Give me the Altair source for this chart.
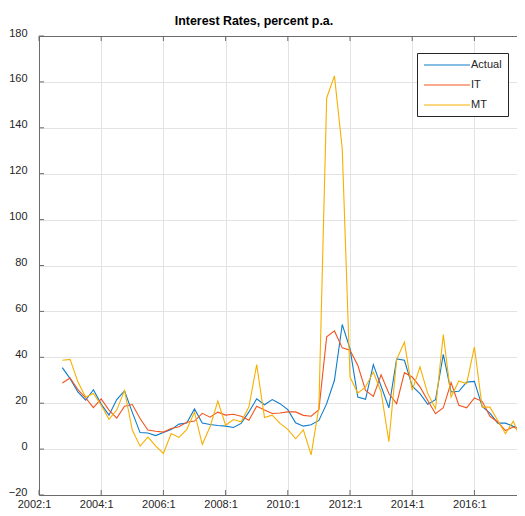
import altair as alt
import pandas as pd

# Quarterly observations, 2002:4 .. 2017:4
start_year, start_quarter = 2002, 4
actual = [35.5, 30.7, 24.9, 21.3, 25.9, 19.6, 14.8, 21.6, 25.4, 16.0,
          7.2, 7.0, 5.9, 7.2, 8.5, 10.9, 11.4, 17.5, 11.4, 10.7,
          10.3, 10.0, 9.4, 11.2, 16.2, 21.9, 19.3, 21.6, 19.8, 17.2,
          11.5, 10.0, 10.6, 12.5, 19.8, 30.0, 54.3, 43.8, 22.7, 21.7,
          36.8, 27.4, 18.0, 39.3, 38.7, 27.4, 24.2, 19.5, 21.5, 41.3,
          24.9, 25.2, 29.2, 29.5, 18.6, 15.7, 11.3, 11.3, 9.9, 8.9, 8.9]
it = [28.8, 31.0, 25.9, 22.3, 18.1, 21.9, 17.0, 13.5, 18.7, 19.4,
      13.3, 8.3, 7.8, 7.4, 9.0, 9.7, 11.7, 12.2, 15.6, 13.9,
      16.1, 14.8, 15.2, 14.3, 12.6, 18.7, 17.0, 15.5, 15.7, 16.2,
      16.2, 14.7, 14.3, 17.2, 48.9, 51.5, 44.1, 43.1, 36.5, 25.6,
      23.0, 32.4, 24.2, 19.8, 33.3, 31.4, 27.1, 21.2, 15.4, 18.0,
      29.0, 19.1, 18.0, 22.3, 20.8, 14.3, 11.8, 8.1, 9.6, 8.1, 8.4]
mt = [38.7, 39.1, 29.3, 22.7, 24.2, 19.1, 13.0, 17.0, 25.6, 8.3,
      1.3, 5.2, 1.4, -1.9, 6.8, 5.1, 8.5, 16.1, 2.0, 9.7,
      20.9, 10.4, 12.9, 11.9, 18.4, 36.8, 13.8, 14.8, 11.2, 8.6,
      4.5, 8.4, -2.5, 18.3, 153.0, 162.6, 131.0, 31.4, 24.4, 27.1,
      33.6, 24.9, 3.2, 39.1, 46.6, 25.6, 35.8, 24.2, 17.6, 49.9,
      22.7, 29.7, 28.5, 44.5, 18.3, 18.3, 12.5, 6.7, 12.2, 3.8, 8.9]

series_names = ["Actual", "IT", "MT"]
series_colors = ["#0f7ccc", "#f2541f", "#f7b000"]
x_tick_years = [2002, 2004, 2006, 2008, 2010, 2012, 2014, 2016]
x_tick_labels = ["2002:1", "2004:1", "2006:1", "2008:1", "2010:1", "2012:1", "2014:1", "2016:1"]
y_ticks = [-20, 0, 20, 40, 60, 80, 100, 120, 140, 160, 180]

rows = []
for name, vals in zip(series_names, [actual, it, mt]):
    for k, v in enumerate(vals):
        t = start_year + (start_quarter - 1) / 4 + k / 4
        rows.append({"t": t, "value": v, "series": name})
df = pd.DataFrame(rows)

W, H = 478, 459
FONT = "Liberation Sans"
AXC = "#6b6b6b"
x_dom = [2002, 2002 + W / 31.1]
y_dom = [-20, 180]

label_expr = " : ".join(
    f"datum.value == {y} ? '{l}'" for y, l in zip(x_tick_years, x_tick_labels)
) + " : ''"

xscale = alt.Scale(domain=x_dom, nice=False, zero=False)
yscale = alt.Scale(domain=y_dom, nice=False, zero=False)

lines = alt.Chart(df).mark_line(strokeWidth=1.1, clip=True).encode(
    x=alt.X("t:Q", scale=xscale, title=None,
            axis=alt.Axis(orient="bottom", values=x_tick_years, labelExpr=label_expr,
                          grid=True, gridColor="#e3e3e3", ticks=False, domain=True,
                          domainColor=AXC, labelFont=FONT, labelFontSize=11,
                          labelColor="#262626", labelPadding=3, labelOffset=-5,
                          labelFlush=False, labelOverlap=False)),
    y=alt.Y("value:Q", scale=yscale, title=None,
            axis=alt.Axis(orient="left", values=y_ticks, grid=True, gridColor="#e3e3e3",
                          ticks=False, domain=True, domainColor=AXC, labelFont=FONT,
                          labelFontSize=11, labelColor="#262626", labelPadding=12,
                          labelOffset=-3, labelFlush=False, labelOverlap=False)),
    color=alt.Color("series:N",
                    scale=alt.Scale(domain=series_names, range=series_colors),
                    legend=alt.Legend(title=None, orient="none", legendX=378, legendY=17,
                                      symbolType="M-1,0H8.2", symbolSize=100,
                                      symbolStrokeWidth=1.2, labelOffset=36,
                                      labelFont=FONT, labelFontSize=11, labelColor="#262626",
                                      labelExpr="datum.label + '      '",
                                      rowPadding=9, padding=6, strokeColor="#262626",
                                      fillColor="white", cornerRadius=0)),
    order="t:Q",
)

xt = pd.DataFrame({"t": x_tick_years})
xticks_bottom = alt.Chart(xt).mark_rule(color=AXC, strokeWidth=1).encode(
    x=alt.X("t:Q", scale=xscale, title=None,
            axis=alt.Axis(orient="top", labels=False, ticks=False, grid=False,
                          domain=True, domainColor=AXC)),
    y=alt.value(H), y2=alt.value(H - 5),
)
xticks_top = alt.Chart(xt).mark_rule(color=AXC, strokeWidth=1).encode(
    x=alt.X("t:Q", scale=xscale, axis=None),
    y=alt.value(0), y2=alt.value(5),
)
yt = pd.DataFrame({"value": y_ticks})
yticks = alt.Chart(yt).mark_rule(color=AXC, strokeWidth=1).encode(
    y=alt.Y("value:Q", scale=yscale, title=None,
            axis=alt.Axis(orient="left", values=y_ticks, grid=True, gridColor="#e3e3e3",
                          ticks=False, domain=True, domainColor=AXC, labelFont=FONT,
                          labelFontSize=11, labelColor="#262626", labelPadding=12,
                          labelOffset=-3, labelFlush=False, labelOverlap=False)),
    x=alt.value(0), x2=alt.value(5),
)

chart = alt.layer(lines, xticks_bottom, xticks_top, yticks).resolve_axis(
    x="independent"
).properties(
    width=W, height=H,
    autosize=alt.AutoSizeParams(type="none"),
    padding={"left": 31, "top": 28, "right": 0, "bottom": 13},
    title=alt.TitleParams("Interest Rates, percent p.a.", font=FONT, fontSize=12.4,
                          fontWeight="bold", color="#000000", anchor="middle",
                          dx=-24, offset=0),
).configure_view(stroke=None).configure(background="white")

chart.save("out.html", embed_options={"renderer": "svg", "actions": False})
